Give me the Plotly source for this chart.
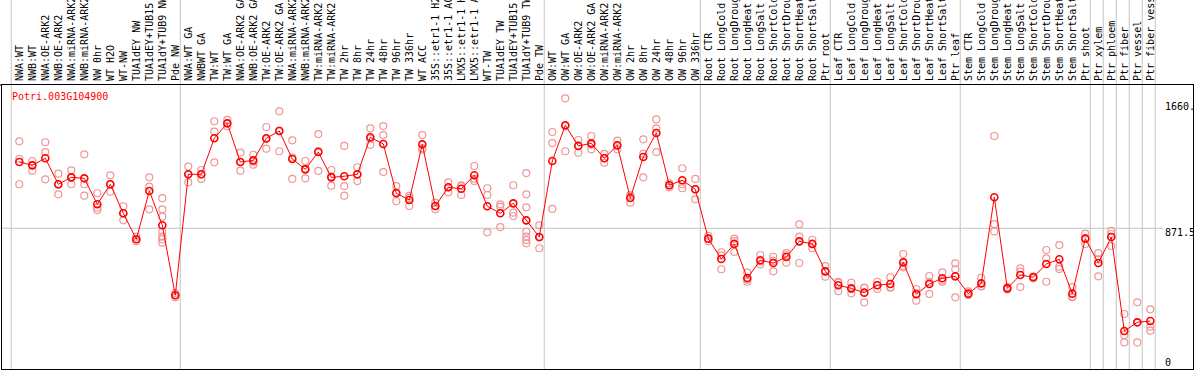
import plotly.graph_objects as go

# ---------------- data ----------------
group_nw = ["NWA:WT", "NWB:WT", "NWA:OE-ARK2", "NWB:OE-ARK2", "NWA:miRNA-ARK2", "NWB:miRNA-ARK2",
            "NW 0hr", "WT H2O", "WT-NW", "TUA1dEY NW", "TUA1dEY+TUB15 NW", "TUA1dY+TUB9 NW", "Pde NW"]
group_tw = ["NWA:WT GA", "NWBWT GA", "TW:WT", "TW:WT GA", "NWA:OE-ARK2 GA", "NWB:OE-ARK2 GA",
            "TW:OE-ARK2", "TW:OE-ARK2 GA", "NWA:miRNA-ARK2 GA", "NWB:miRNA-ARK2 GA", "TW:miRNA-ARK2",
            "TW:miRNA-ARK2 GA", "TW 2hr", "TW 8hr", "TW 24hr", "TW 48hr", "TW 96hr", "TW 336hr",
            "WT ACC", "35S::etr1-1 H2O", "35S::etr1-1 ACC", "LMX5::etr1-1 H2O", "LMX5::etr1-1 ACC",
            "WT-TW", "TUA1dEY TW", "TUA1dEY+TUB15 TW", "TUA1dY+TUB9 TW", "Pde TW"]
group_ow = ["OW:WT", "OW:WT GA", "OW:OE-ARK2", "OW:OE-ARK2 GA", "OW:miRNA-ARK2", "OW:miRNA-ARK2 GA",
            "OW 2hr", "OW 8hr", "OW 24hr", "OW 48hr", "OW 96hr", "OW 336hr"]
group_root = ["Root CTR", "Root LongCold", "Root LongDrought", "Root LongHeat", "Root LongSalt",
              "Root ShortCold", "Root ShortDrought", "Root ShortHeat", "Root ShortSalt", "Ptr root"]
group_leaf = ["Leaf CTR", "Leaf LongCold", "Leaf LongDrought", "Leaf LongHeat", "Leaf LongSalt",
              "Leaf ShortCold", "Leaf ShortDrought", "Leaf ShortHeat", "Leaf ShortSalt", "Ptr leaf"]
group_stem = ["Stem CTR", "Stem LongCold", "Stem LongDrought", "Stem LongHeat", "Stem LongSalt",
              "Stem ShortCold", "Stem ShortDrought", "Stem ShortHeat", "Stem ShortSalt", "Ptr shoot"]
group_xylem = ["Ptr xylem"]
group_phloem = ["Ptr phloem"]
group_fiber = ["Ptr fiber"]
group_vessel = ["Ptr vessel"]
group_fibervessel = ["Ptr fiber vessel"]

groups = [group_nw, group_tw, group_ow, group_root, group_leaf, group_stem,
          group_xylem, group_phloem, group_fiber, group_vessel, group_fibervessel]
categories = [c for g in groups for c in g]

mean_values = [1285, 1264, 1308, 1146, 1189, 1183, 1021, 1146, 965, 803, 1104, 890, 454,
               1208, 1208, 1433, 1526, 1285, 1295, 1433, 1478, 1304, 1239, 1347, 1189, 1196, 1208,
               1439, 1397, 1090, 1048, 1395, 1010, 1127, 1118, 1202, 1009, 965, 1027, 921, 817,
               1291, 1514, 1385, 1401, 1308, 1389, 1060, 1316, 1466, 1140, 1171, 1115,
               807, 680, 774, 561, 672, 655, 692, 790, 774, 603,
               516, 497, 470, 516, 524, 659, 460, 524, 560, 572,
               464, 528, 1065, 497, 580, 566, 649, 678, 464, 807,
               655, 817, 231, 285, 293]

replicate_values = [
    [1414, 1305, 1146], [1291, 1264, 1231], [1408, 1347, 1177], [1212, 1143, 1083],
    [1233, 1189, 1146], [1333, 1146, 1075], [1090, 1000, 985], [1202, 1146, 1100],
    [1009, 965, 921], [819, 803, 790], [1189, 1131, 990], [1059, 990, 944, 850, 819, 803, 782],
    [468, 454, 442],
    [1256, 1208, 1158], [1235, 1208, 1179], [1539, 1474, 1283], [1547, 1526, 1508],
    [1343, 1285, 1231], [1330, 1287, 1268], [1503, 1428, 1368], [1601, 1481, 1352],
    [1420, 1313, 1179], [1291, 1243, 1183], [1459, 1353, 1229], [1235, 1195, 1137],
    [1385, 1135, 1075], [1252, 1206, 1166], [1495, 1430, 1392], [1509, 1453, 1222],
    [1135, 1095, 1040], [1073, 1061, 1010], [1453, 1370, 1362], [1031, 1010, 990],
    [1158, 1127, 1096], [1140, 1135, 1079], [1260, 1180, 1166], [1121, 1079, 846],
    [1021, 1006, 879], [1140, 969, 948], [1216, 1083, 1002, 850, 819, 798, 778],
    [890, 814, 747],
    [1472, 1403, 992], [1682, 1508, 1352], [1422, 1390, 1343], [1447, 1392, 1364],
    [1335, 1309, 1280], [1418, 1385, 1364], [1079, 1070, 1031], [1426, 1335, 1189],
    [1551, 1495, 1347], [1152, 1140, 1127], [1246, 1146, 1121], [1179, 1114, 1052],
    [825, 807, 790], [722, 702, 616], [807, 791, 724], [595, 550, 538], [705, 664, 647],
    [694, 668, 603], [716, 703, 657], [896, 819, 655], [800, 775, 747], [636, 603, 570],
    [537, 532, 479], [532, 493, 466], [501, 499, 410], [538, 517, 493], [566, 505, 501],
    [711, 638, 628], [493, 467, 420], [574, 536, 462], [597, 545, 538], [653, 616, 570, 441],
    [478, 460, 455], [563, 512, 509], [1447, 898, 852], [505, 497, 490], [622, 601, 505],
    [572, 566, 560], [736, 684, 538], [767, 632, 618], [505, 446, 441], [838, 810, 773],
    [716, 677, 572], [856, 836, 761], [337, 206, 160], [410, 285, 160], [366, 258, 233],
]

gene_id = "Potri.003G104900"
y_tick_values = [1660, 871.5, 0]
y_tick_labels = ["1660.", "871.5", "0"]

# ---------------- styling / layout ----------------
W, H = 1194, 370
ML, MR, MT, MB = 2, 1, 85, 1
plot_w = W - ML - MR
plot_h = H - MT - MB
X_RANGE = [-1.331, -1.331 + plot_w / 13.0]
Y_RANGE = [-6, 1765]
MONO = "DejaVu Sans Mono, Liberation Mono, monospace"
RED = "#ff0000"
PINK = "rgb(240,150,150)"
GRID = "#c4c4c4"

x_idx = list(range(len(categories)))
rep_x, rep_y = [], []
for i, vals in enumerate(replicate_values):
    for v in vals:
        rep_x.append(i)
        rep_y.append(v)

fig = go.Figure()
fig.add_trace(go.Scatter(
    x=rep_x, y=rep_y, mode="markers",
    marker=dict(symbol="circle-open", size=7, color=PINK, line=dict(width=1.2, color=PINK)),
    hoverinfo="skip", showlegend=False))
fig.add_trace(go.Scatter(
    x=x_idx, y=mean_values, mode="lines+markers",
    line=dict(color=RED, width=1),
    marker=dict(symbol="circle-open", size=7, color=RED, line=dict(width=1.6, color=RED)),
    showlegend=False))

shapes = []
start = 0
bounds = []
for g in groups:
    bounds.append(start)
    start += len(g)
bounds.append(start)
top_paper = (H - MB) / plot_h
for b in bounds:
    shapes.append(dict(type="line", xref="x", yref="paper", x0=b - 0.62, x1=b - 0.62,
                       y0=0, y1=top_paper, line=dict(color=GRID, width=1), layer="below"))
label_x_paper = (1163 - ML) / plot_w
shapes.append(dict(type="line", xref="paper", yref="y", x0=0, x1=label_x_paper,
                   y0=871.5, y1=871.5, line=dict(color=GRID, width=1), layer="below"))
shapes.append(dict(type="line", xref="paper", yref="paper", x0=-ML / plot_w, x1=0,
                   y0=1, y1=1, line=dict(color="black", width=1)))

annotations = [dict(xref="paper", yref="paper", x=(10 - ML) / plot_w, y=(H - MB - 96.7) / plot_h,
                    xanchor="left", yanchor="middle", text=gene_id, showarrow=False,
                    font=dict(family=MONO, size=10, color=RED))]
shifts = [-5, -4, 6]
for v, t, s in zip(y_tick_values, y_tick_labels, shifts):
    annotations.append(dict(xref="paper", yref="y", x=label_x_paper, y=v, xanchor="left",
                            yanchor="middle", yshift=s, text=t, showarrow=False,
                            font=dict(family=MONO, size=10, color="black")))

fig.update_layout(
    width=W, height=H, autosize=False,
    margin=dict(l=ML, r=MR, t=MT, b=MB, pad=0),
    paper_bgcolor="white", plot_bgcolor="white",
    showlegend=False, hovermode=False,
    shapes=shapes, annotations=annotations,
    xaxis=dict(range=X_RANGE, side="top", tickmode="array", tickvals=x_idx, ticktext=categories,
               tickangle=-90, tickfont=dict(family=MONO, size=10, color="black"),
               showgrid=False, zeroline=False, showline=True, linecolor="black", linewidth=1,
               mirror=True, ticks="", automargin=False, ticklabelstandoff=1),
    yaxis=dict(range=Y_RANGE, showticklabels=False, showgrid=False, zeroline=False,
               showline=True, linecolor="black", linewidth=1, mirror=True, ticks="",
               automargin=False),
)

fig.write_html("out.html", config={"displayModeBar": False},
               post_script="document.body.style.margin='0px';document.body.style.padding='0px';")
